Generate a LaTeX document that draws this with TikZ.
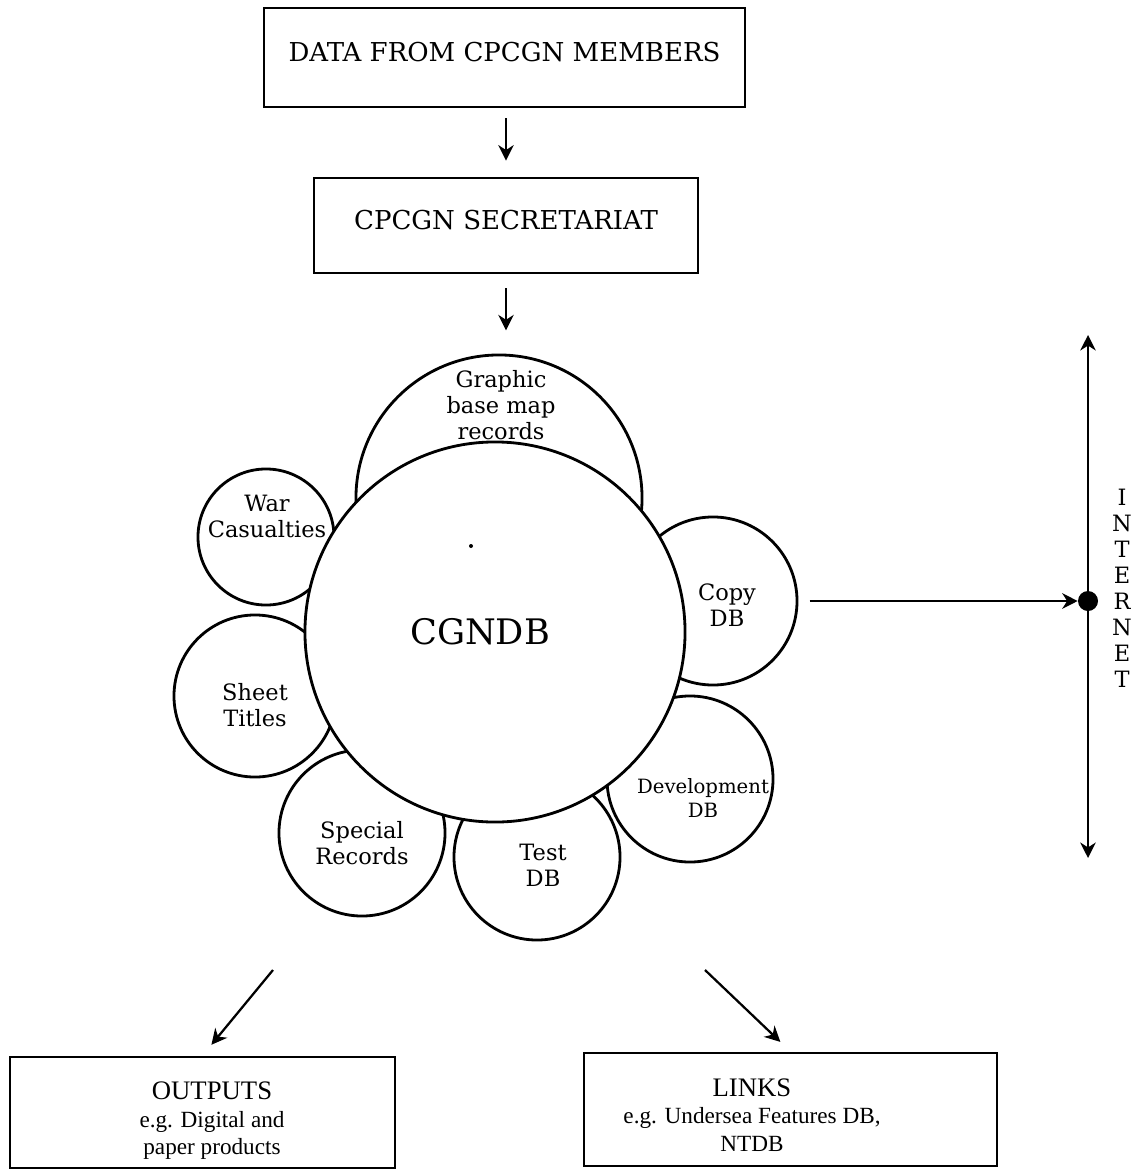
\documentclass[tikz,border=0pt]{standalone}
\usepackage{fontspec}
\setmainfont{DejaVu Serif}
\newfontfamily\outfont{Liberation Serif}
\usetikzlibrary{arrows.meta}
\begin{document}
\begin{tikzpicture}[x=0.025cm,y=-0.025cm,
    flowbox/.style={draw,line width=2pt,inner sep=0pt,text depth=0.3cm,font=\fontsize{18.5}{22}\selectfont},
    outbox/.style={draw,line width=2pt,inner sep=0pt},
    outtext/.style={align=center,inner sep=0pt,font=\outfont\fontsize{16.5}{19.5}\selectfont},
    dbring/.style={circle,draw,line width=2pt,fill=white,inner sep=0pt},
    dbtext/.style={align=center,inner sep=0pt,font=\fontsize{16}{18.5}\selectfont},
    flowarrow/.style={-{Stealth[length=11pt,width=11pt,inset=3.5pt]},line width=1.6pt}]
    \useasboundingbox (0,0) rectangle (1135,1170);

    % boxes at the top
    \node[flowbox,minimum width=12.025cm,minimum height=2.475cm] (members) at (504.5,57.5) {DATA FROM CPCGN MEMBERS};
    \node[flowbox,minimum width=9.6cm,minimum height=2.375cm] (secretariat) at (506,225.5) {CPCGN SECRETARIAT};

    % small databases round the main one
    \node[dbring,minimum size=7.15cm] (graphic) at (499,498) {};
    \node[dbring,minimum size=3.4cm] (war) at (266,537) {};
    \node[dbring,minimum size=4.2cm] (copy) at (713,601) {};
    \node[dbring,minimum size=4.05cm] (sheet) at (255,696) {};
    \node[dbring,minimum size=4.15cm] (devel) at (690,779) {};
    \node[dbring,minimum size=4.15cm] (test) at (537,857) {};
    \node[dbring,minimum size=4.15cm] (special) at (362,833) {};
    \node[dbring,minimum size=9.5cm] (cgndb) at (495,632) {};

    \node[dbtext] (graphictxt) at (501,405) {Graphic\\base map\\records};
    \node[dbtext] (wartxt) at (267,516) {War\\Casualties};
    \node[dbtext] (copytxt) at (727,605) {Copy\\DB};
    \node[dbtext] (sheettxt) at (255,705) {Sheet\\Titles};
    \node[dbtext,font=\fontsize{14}{17}\selectfont] (develtxt) at (703,798) {Development\\DB};
    \node[dbtext] (testtxt) at (543,865) {Test\\DB};
    \node[dbtext] (specialtxt) at (362,843) {Special\\Records};
    \node[font=\fontsize{25}{29}\selectfont] (cgndbtxt) at (480,632) {CGNDB};
    \fill (471,546) circle (2);

    % internet
    \node[circle,fill,inner sep=0pt,minimum size=0.5cm] (hub) at (1088,601) {};
    \coordinate (nettop) at (1088,335);
    \coordinate (netbot) at (1088,858);
    \draw[line width=1.6pt,{Stealth[length=11pt,width=11pt,inset=3.5pt]}-{Stealth[length=11pt,width=11pt,inset=3.5pt]}] (nettop) -- (netbot);
    \node[align=center,inner sep=0pt,font=\fontsize{16}{18.5}\selectfont] (internet) at (1122,588) {I\\N\\T\\E\\R\\N\\E\\T};

    % boxes at the bottom
    \node[outbox,minimum width=9.625cm,minimum height=2.775cm] (outputs) at (202.5,1112.5) {};
    \node[outbox,minimum width=10.325cm,minimum height=2.825cm] (links) at (790.5,1109.5) {};
    \node[outtext] (outputstxt) at (212,1121) {\fontsize{19}{22}\selectfont OUTPUTS\\e.g. Digital and\\paper products};
    \node[outtext] (linkstxt) at (752,1115) {\fontsize{19}{22}\selectfont LINKS\\e.g. Undersea Features DB,\\NTDB};
    \coordinate (outstart) at (273,970);
    \coordinate (linkstart) at (705,970);

    % connectors
    \draw[flowarrow,shorten <=0.25cm,shorten >=0.4cm] (members.south -| secretariat.north) -- (secretariat.north);
    \draw[flowarrow,shorten <=0.35cm,shorten >=0.58cm] (secretariat.south) -- (secretariat.south |- graphic.north);
    \draw[flowarrow,shorten <=0.28cm] (copy) -- (hub);
    \draw[flowarrow,shorten >=0.35cm] (outstart) -- (outputs.north);
    \draw[flowarrow,shorten >=0.35cm] (linkstart) -- (links.north);
\end{tikzpicture}
\end{document}
